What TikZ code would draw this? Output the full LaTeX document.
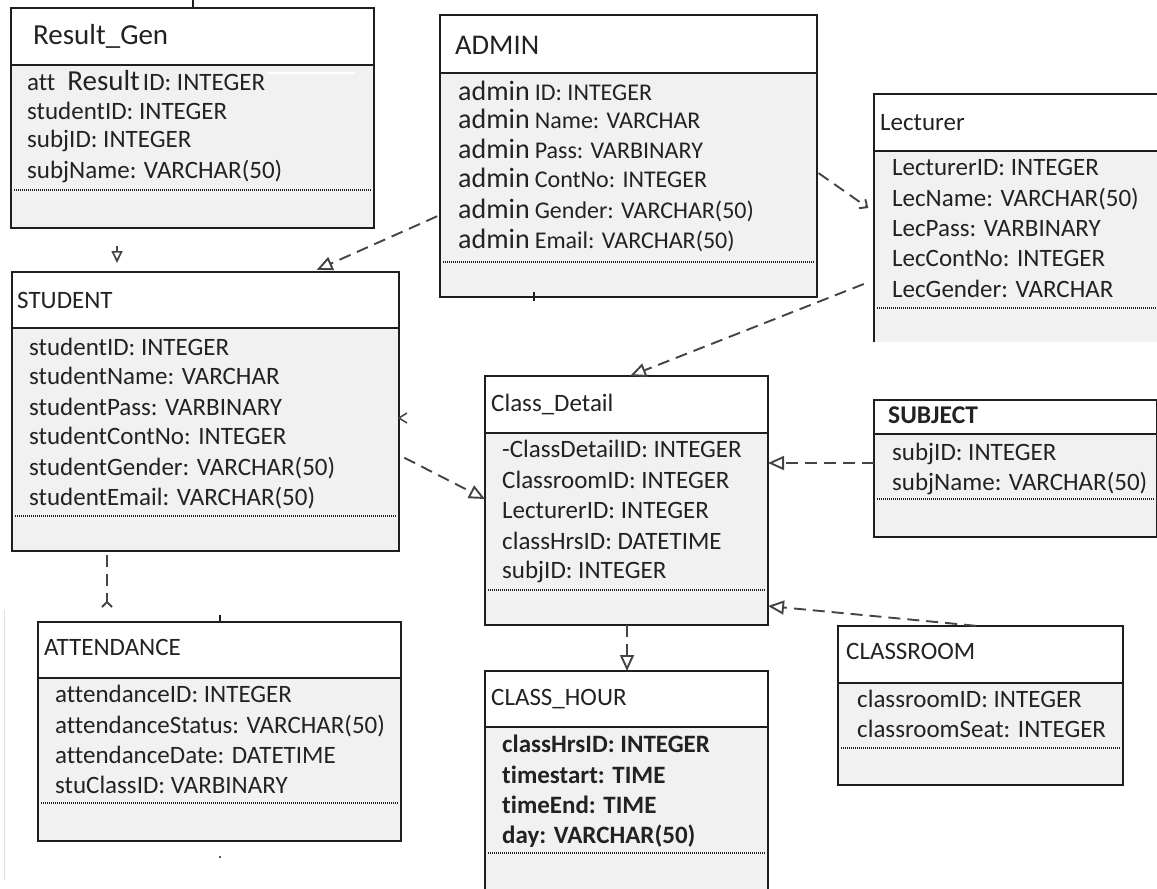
\documentclass[tikz,border=0pt]{standalone}
\usepackage{fontspec}
\setmainfont[Ligatures=NoCommon]{Carlito}
\usetikzlibrary{arrows.meta}
\definecolor{bord}{HTML}{1E1E1E}
\definecolor{bodyfill}{HTML}{F1F1F1}
\definecolor{txt}{HTML}{222222}
\definecolor{conn}{HTML}{444444}
\newcommand\fldfont{\fontsize{25}{30}\selectfont}
\newcommand\admw{\fontsize{28}{30}\selectfont}
\newcommand\admr{\fontsize{24}{30}\selectfont}
\tikzset{
  body/.style={draw=bord, fill=bodyfill, line width=2pt, inner sep=0pt, outer sep=0pt},
  head/.style={draw=bord, fill=white, line width=2pt, inner sep=0pt, outer sep=0pt},
  sepline/.style={draw=bord, line width=1.1pt, dash pattern=on 1pt off 1pt},
  ttl/.style={font=\fldfont, text=txt, inner sep=0pt, anchor=base west},
  fld/.style={font=\fldfont, text=txt, inner sep=0pt, anchor=base west},
  dep/.style={draw=conn, line width=1.9pt, dash pattern=on 12pt off 7pt,
    -{Triangle[open, length=16pt, width=14pt, fill=white]}},
  tick/.style={draw=bord, line width=1.6pt},
}
% name, x, y, width, height, header height, dotted y
\newcommand\umlbox[7]{%
  \node[body, anchor=north west, minimum width=#4pt, minimum height=#5pt] (#1) at (#2,#3) {};
  \node[head, anchor=north west, minimum width=#4pt, minimum height=#6pt] (#1-h) at (#1.north west) {};
  \draw[sepline, shorten <=3pt, shorten >=3pt] (#1.west |- 0,#7) -- (#1.east |- 0,#7);
}
\begin{document}
\begin{tikzpicture}[x=1pt, y=-1pt]
\useasboundingbox (0,0) rectangle (1157,889);
\fill[white] (0,0) rectangle (1157,889);
\clip (0,0) rectangle (1157,889);

% faint page edge
\draw[black!12, line width=1pt] (4,610) -- (4,880);

% ---------------- Result_Gen
\umlbox{rg}{11}{8}{363}{220}{57}{190}
\node[ttl, font=\fontsize{29}{30}\selectfont] (rg-t) at (33,44) {Result\_Gen};
\draw[white, line width=1.5pt] (268,73) -- (355,73);
\node[fld] (rg-f1) at (27,90) {att\hspace{12pt}{\fontsize{29}{30}\selectfont Result}\hspace{3pt}ID: INTEGER};
\foreach \y/\t [count=\i from 2] in {119/{studentID: INTEGER},147/{subjID: INTEGER},178/{subjName: VARCHAR(50)}}
  \node[fld] (rg-f\i) at (27,\y) {\t};
\draw[tick] (193,0) -- (rg.north -| 193,0);

% ---------------- ADMIN
\umlbox{admin}{440}{15}{377}{282}{58}{262}
\node[ttl, font=\fontsize{28.5}{30}\selectfont] (admin-t) at (455,54) {ADMIN};
\foreach \y/\t [count=\i] in {100/{ID: INTEGER},128/{Name: VARCHAR},158/{Pass: VARBINARY},187/{ContNo: INTEGER},218/{Gender: VARCHAR(50)},248/{Email: VARCHAR(50)}}
  \node[fld] (admin-f\i) at (458,\y) {{\admw admin}\hspace{5pt}{\admr \t}};
\draw[tick] (admin.south -| 534,0) -- ++(0,-5);
\draw[tick] (admin.south -| 534,0) -- ++(0,4);

% ---------------- Lecturer
\node[body, draw=none, anchor=north west, minimum width=290pt, minimum height=248pt] (lect) at (874,94) {};
\draw[draw=bord, line width=2pt] (lect.south west) -- (lect.north west) -- (lect.north east);
\node[head, anchor=north west, minimum width=290pt, minimum height=57pt] (lect-h) at (lect.north west) {};
\draw[sepline, shorten <=3pt] (lect.west |- 0,308) -- (lect.east |- 0,308);
\node[ttl] (lect-t) at (880,130) {Lecturer};
\foreach \y/\t [count=\i] in {175/{LecturerID: INTEGER},206/{LecName: VARCHAR(50)},236/{LecPass: VARBINARY},266/{LecContNo: INTEGER},297/{LecGender: VARCHAR}}
  \node[fld] (lect-f\i) at (892,\y) {\t};

% ---------------- STUDENT
\umlbox{student}{12}{272}{387}{279}{56}{516}
\node[ttl] (student-t) at (17,308) {STUDENT};
\foreach \y/\t [count=\i] in {355/{studentID: INTEGER},384/{studentName: VARCHAR},415/{studentPass: VARBINARY},444/{studentContNo: INTEGER},475/{studentGender: VARCHAR(50)},505/{studentEmail: VARCHAR(50)}}
  \node[fld] (student-f\i) at (29,\y) {\t};

% ---------------- Class_Detail
\umlbox{cd}{485}{376}{283}{249}{57}{590}
\node[ttl] (cd-t) at (491,411) {Class\_Detail};
\foreach \y/\t [count=\i] in {457/{-ClassDetailID: INTEGER},488/{ClassroomID: INTEGER},518/{LecturerID: INTEGER},549/{classHrsID: DATETIME},578/{subjID: INTEGER}}
  \node[fld] (cd-f\i) at (502,\y) {\t};

% ---------------- SUBJECT
\umlbox{subj}{874}{400}{283}{137}{34}{499}
\node[ttl, font=\bfseries\fontsize{25.5}{30}\selectfont] (subj-t) at (888,423) {SUBJECT};
\foreach \y/\t [count=\i] in {460/{subjID: INTEGER},490/{subjName: VARCHAR(50)}}
  \node[fld] (subj-f\i) at (892,\y) {\t};

% ---------------- ATTENDANCE
\umlbox{att}{38}{622}{363}{219}{56}{803}
\node[ttl] (att-t) at (44,655) {ATTENDANCE};
\foreach \y/\t [count=\i] in {702/{attendanceID: INTEGER},733/{attendanceStatus: VARCHAR(50)},763/{attendanceDate: DATETIME},793/{stuClassID: VARBINARY}}
  \node[fld] (att-f\i) at (55,\y) {\t};
\draw[tick] (att.north -| 220,0) -- ++(0,-7);
\fill[bord] (220,857) circle (1.2pt);

% ---------------- CLASSROOM
\umlbox{room}{838}{626}{285}{159}{57}{748}
\node[ttl] (room-t) at (846,659) {CLASSROOM};
\foreach \y/\t [count=\i] in {707/{classroomID: INTEGER},737/{classroomSeat: INTEGER}}
  \node[fld] (room-f\i) at (857,\y) {\t};

% ---------------- CLASS_HOUR
\umlbox{ch}{485}{671}{283}{240}{56}{853}
\node[ttl] (ch-t) at (491,705) {CLASS\_HOUR};
\foreach \y/\t [count=\i] in {752/{classHrsID: INTEGER},783/{timestart: TIME},813/{timeEnd: TIME},843/{day: VARCHAR(50)}}
  \node[fld, font=\bfseries\fldfont] (ch-f\i) at (502,\y) {\t};

% ---------------- connectors
\draw[draw=conn, line width=1.7pt, -{Triangle[open, length=12pt, width=11pt, fill=white]}, shorten >=9pt]
  (117,246) -- (student.north -| 117,0);
\draw[dep, shorten <=3pt, shorten >=5pt] (admin.west |- 0,215) -- (student.north -| 312,0);
\draw[draw=conn, line width=1.9pt, dash pattern=on 12pt off 7pt,
  -{Straight Barb[length=6pt, width=11pt]}, shorten <=2pt, shorten >=7pt]
  (admin.east |- 0,172) -- (lect.west |- 0,212);
\draw[dep, shorten <=11pt] (lect.west |- 0,280) -- (cd.north -| 630,0);
\draw[dep, shorten <=6pt] (student.east |- 0,455) -- (cd.west |- 0,499);
\draw[dep] (subj.west |- 0,463) -- (cd.east |- 0,463);
\draw[dep, shorten <=2pt] (room.north -| 978,0) -- (cd.east |- 0,606);
\draw[dep] (cd.south -| 627,0) -- (ch.north -| 627,0);
\draw[draw=conn, line width=1.9pt, dash pattern=on 12pt off 7pt,
  -{Straight Barb[reversed, length=5pt, width=10pt]}, shorten <=4pt, shorten >=14pt]
  (student.south -| 107,0) -- (att.north -| 107,0);
% stray arrow mark on STUDENT's right edge
\draw[draw=conn, line width=1.5pt] ([shift={(8,-5)}]student.east |- 0,418) -- (student.east |- 0,418) -- ([shift={(8,5)}]student.east |- 0,418);
\end{tikzpicture}
\end{document}
